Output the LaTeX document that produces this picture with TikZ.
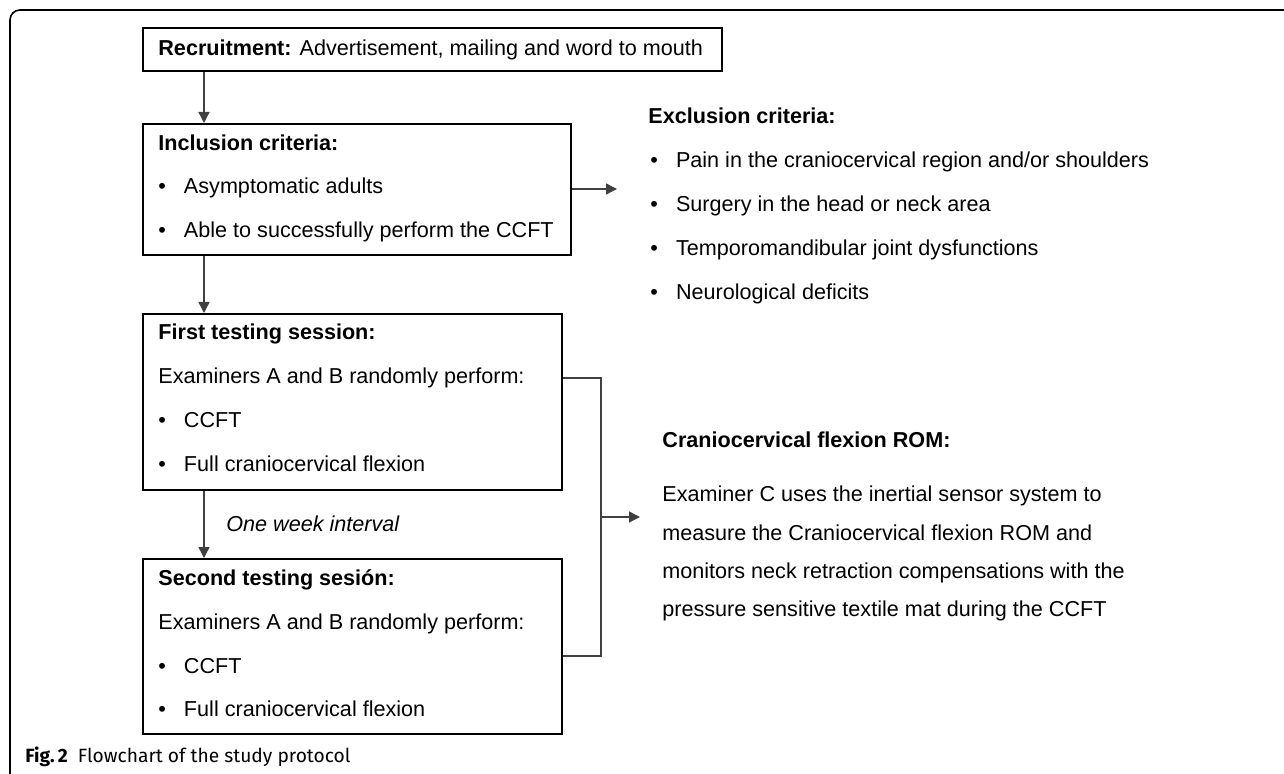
\documentclass[tikz,border=0pt]{standalone}
\usepackage{fontspec}
\setmainfont{Liberation Sans}
\newfontfamily\capfont{Fira Sans}
\usetikzlibrary{arrows.meta}
\tikzset{>={Triangle[length=5.5pt,width=5.5pt]}}
\tikzset{
  box/.style={draw=black, line width=1pt, inner sep=0pt, anchor=north west},
  txt/.style={anchor=base west, inner sep=0pt, font=\fontsize{10.8}{13}\selectfont},
  link/.style={draw=black!75, line width=0.7pt},
}
\newcommand{\bitem}[1]{\makebox[12.8pt][l]{\textbullet}#1}

\begin{document}
\begin{tikzpicture}[x=0.5pt, y=-0.5pt]
    \useasboundingbox (0,0) rectangle (1284,774);
    \draw [line width=0.8pt, rounded corners=5pt] (1284,10) -- (10,10) -- (10,784) -- (40,784);

    \node [box, minimum width=289.5pt, minimum height=21.5pt] (recr) at (142,27) {};
    \node [box, minimum width=214pt, minimum height=65.5pt] (incl) at (142,123) {};
    \node [box, minimum width=209.5pt, minimum height=88pt] (first) at (142,313) {};
    \node [box, minimum width=209.5pt, minimum height=87.5pt] (second) at (142,558) {};

    \node [txt] (recrT) at (158,56) {\textbf{Recruitment:} Advertisement, mailing and word to mouth};

    \node [txt] (inclT) at (158,151) {\textbf{Inclusion criteria:}};
    \node [txt] (incl1) at (158,194) {\bitem{Asymptomatic adults}};
    \node [txt] (incl2) at (158,238) {\bitem{Able to successfully perform the CCFT}};

    \node [txt] (firstT) at (158,340) {\textbf{First testing session:}};
    \node [txt] (first1) at (158,384) {Examiners A and B randomly perform:};
    \node [txt] (first2) at (158,428) {\bitem{CCFT}};
    \node [txt] (first3) at (158,472) {\bitem{Full craniocervical flexion}};

    \node [txt] (secT) at (158,585) {\textbf{Second testing sesión:}};
    \node [txt] (sec1) at (158,629) {Examiners A and B randomly perform:};
    \node [txt] (sec2) at (158,673) {\bitem{CCFT}};
    \node [txt] (sec3) at (158,716) {\bitem{Full craniocervical flexion}};

    \node [txt] (exT) at (648,124) {\textbf{Exclusion criteria:}};
    \node [txt] (ex1) at (650,168) {\bitem{Pain in the craniocervical region and/or shoulders}};
    \node [txt] (ex2) at (650,212) {\bitem{Surgery in the head or neck area}};
    \node [txt] (ex3) at (650,256) {\bitem{Temporomandibular joint dysfunctions}};
    \node [txt] (ex4) at (650,300) {\bitem{Neurological deficits}};

    \node [txt] (romT) at (662,448) {\textbf{Craniocervical flexion ROM:}};
    \node [txt] (rom1) at (662,502) {Examiner C uses the inertial sensor system to};
    \node [txt] (rom2) at (662,540) {measure the Craniocervical flexion ROM and};
    \node [txt] (rom3) at (662,578) {monitors neck retraction compensations with the};
    \node [txt] (rom4) at (662,616) {pressure sensitive textile mat during the CCFT};

    \coordinate (spine) at (204,0);
    \coordinate (exin) at (617,189);
    \coordinate (bt) at (601,378);
    \coordinate (bm) at (601,517);
    \coordinate (bb) at (601,656);
    \coordinate (romin) at (640,517);

    \draw [link, ->] (recr.south -| spine) -- (incl.north -| spine);
    \draw [link, ->] (incl.south -| spine) -- (first.north -| spine);
    \draw [link, ->] (first.south -| spine) -- (second.north -| spine);
    \node [txt, font=\fontsize{10.8}{13}\selectfont\itshape] (week) at (226,531) {One week interval};
    \draw [link, ->] (incl.east |- exin) -- (exin);
    \draw [link] (first.east |- bt) -- (bt) -- (bb) -- (second.east |- bb);
    \draw [link, ->] (bm) -- (romin);

    \node [anchor=base west, inner sep=0pt] (cap) at (25,762) {\capfont\fontsize{9.6}{11}\selectfont\textbf{Fig.\,2}\hspace{5pt}Flowchart of the study protocol};
\end{tikzpicture}
\end{document}
